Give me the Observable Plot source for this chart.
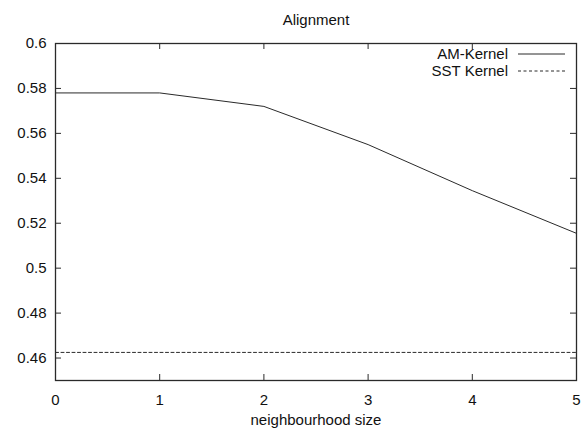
<!DOCTYPE html>
<html><head><meta charset="utf-8">
<script src="https://cdn.jsdelivr.net/npm/d3@7"></script>
<script src="https://cdn.jsdelivr.net/npm/@observablehq/plot@0.6"></script>
<style>
body{margin:0;background:#fff}
#chart svg{font-family:"Liberation Sans",Arial,Helvetica,sans-serif;background:#fff}
</style>
</head><body><div id="chart"></div>
<script>
const sizes = [0, 1, 2, 3, 4, 5];
const amKernel = [0.578, 0.578, 0.572, 0.555, 0.5345, 0.5155];
const sstKernel = [0.4625, 0.4625, 0.4625, 0.4625, 0.4625, 0.4625];
const seriesNames = ["AM-Kernel", "SST Kernel"];
const xTicks = [0, 1, 2, 3, 4, 5];
const yTicks = [0.46, 0.48, 0.5, 0.52, 0.54, 0.56, 0.58, 0.6];
const title = "Alignment";
const xLabel = "neighbourhood size";

const W = 588, H = 429;
const mL = 55, mR = 12, mT = 43, mB = 49;
const innerW = W - mL - mR, innerH = H - mT - mB;
const ink = "#2a2a2a";
const tickLen = 6;
const fs = 15;

const amData = sizes.map((x, i) => ({x, y: amKernel[i]}));
const sstData = sizes.map((x, i) => ({x, y: sstKernel[i]}));
const dashes = [null, "3,2.5"];

function legend(index, scales, values, dims) {
  const g = d3.create("svg:g");
  const xr = dims.width - dims.marginRight;
  seriesNames.forEach((name, i) => {
    const y = dims.marginTop + 11 + i * 17;
    g.append("text")
      .attr("x", xr - 68).attr("y", y).attr("dy", "0.36em")
      .attr("text-anchor", "end").attr("font-size", fs).attr("fill", "#111")
      .text(name);
    g.append("line")
      .attr("x1", xr - 58).attr("x2", xr - 11)
      .attr("y1", y).attr("y2", y)
      .attr("stroke", ink).attr("stroke-width", 1)
      .attr("stroke-dasharray", dashes[i]);
  });
  return g.node();
}

const chart = Plot.plot({
  width: W, height: H,
  marginLeft: mL, marginRight: mR, marginTop: mT, marginBottom: mB,
  style: {fontSize: fs + "px", color: "#111"},
  x: {domain: [0, 5], ticks: xTicks, tickSize: 0, tickPadding: 14, label: null, tickFormat: d => String(d)},
  y: {domain: [0.45, 0.6], ticks: yTicks, tickSize: 0, tickPadding: 9, label: null, tickFormat: d => String(d)},
  marks: [
    Plot.tickX(xTicks, {x: d => d, insetTop: innerH - tickLen, stroke: ink}),
    Plot.tickX(xTicks, {x: d => d, insetBottom: innerH - tickLen, stroke: ink}),
    Plot.tickY(yTicks, {y: d => d, insetRight: innerW - tickLen, stroke: ink}),
    Plot.tickY(yTicks, {y: d => d, insetLeft: innerW - tickLen, stroke: ink}),
    Plot.line(amData, {x: "x", y: "y", stroke: ink, strokeWidth: 1}),
    Plot.line(sstData, {x: "x", y: "y", stroke: ink, strokeWidth: 1, strokeDasharray: dashes[1]}),
    Plot.frame({stroke: ink, strokeWidth: 1.3}),
    Plot.text([title], {frameAnchor: "top", dy: -29, fontSize: fs, fill: "#111"}),
    Plot.text([xLabel], {frameAnchor: "bottom", dy: 44, fontSize: fs, fill: "#111"}),
    legend
  ]
});
document.getElementById("chart").appendChild(chart);
</script>
</body></html>
